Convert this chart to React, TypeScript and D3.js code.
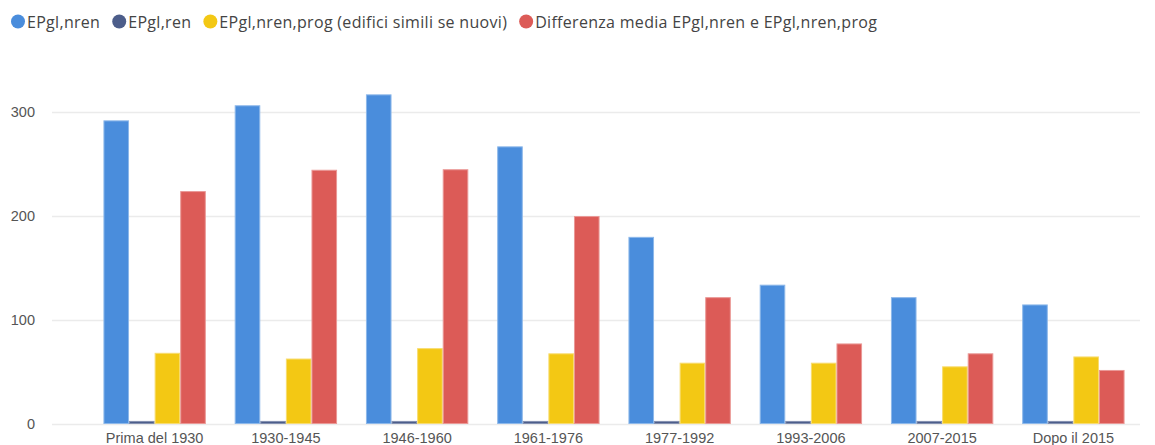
import * as d3 from "d3";
import { useEffect, useRef } from "react";

const categories = [
  "Prima del 1930",
  "1930-1945",
  "1946-1960",
  "1961-1976",
  "1977-1992",
  "1993-2006",
  "2007-2015",
  "Dopo il 2015",
];
const nren = [291, 305.5, 316, 266, 179, 133, 121, 114];
const ren = [2, 2, 2, 2, 2, 2, 2, 2];
const nrenProg = [67.5, 62, 72, 67, 58, 58, 54.5, 64];
const diff = [223, 243.5, 244, 199, 121, 76.5, 67, 51];
const yTicks = [0, 100, 200, 300];

const seriesNames = [
  "EPgl,nren",
  "EPgl,ren",
  "EPgl,nren,prog (edifici simili se nuovi)",
  "Differenza media EPgl,nren e EPgl,nren,prog",
];
const seriesValues = [nren, ren, nrenProg, diff];
const colors = ["#4a8ddc", "#4c5d8a", "#f3c814", "#dc5b57"];
const strokes = ["#8db8ea", "#8490b0", "#f8dc70", "#ea9896"];

const W = 1155;
const H = 445;

const App = () => {
  const ref = useRef<SVGSVGElement>(null);

  useEffect(() => {
    const svg = d3.select(ref.current);
    svg.selectAll("*").remove();

    const x = d3
      .scaleBand()
      .domain(categories)
      .range([89, 1139])
      .paddingInner(0.22)
      .paddingOuter(0.11);
    const xs = d3
      .scaleBand()
      .domain(seriesNames)
      .range([0, x.bandwidth()]);
    const y = d3.scaleLinear().domain([0, 300]).range([423.5, 111.5]);

    // grid
    const grid = svg.append("g");
    grid
      .selectAll("line")
      .data(yTicks)
      .join("line")
      .attr("x1", 52)
      .attr("x2", 1140)
      .attr("y1", (d) => Math.round(y(d)) + 0.5)
      .attr("y2", (d) => Math.round(y(d)) + 0.5)
      .attr("stroke", "#ebebeb")
      .attr("stroke-width", 1.5);

    grid
      .selectAll("text")
      .data(yTicks)
      .join("text")
      .attr("x", 35)
      .attr("y", (d) => y(d) + 5)
      .attr("text-anchor", "end")
      .attr("font-family", "Liberation Sans, Arial, sans-serif")
      .attr("font-size", 14.5)
      .attr("fill", "#555")
      .text((d) => d);

    // bars
    seriesNames.forEach((name, si) => {
      svg
        .append("g")
        .selectAll("rect")
        .data(seriesValues[si])
        .join("rect")
        .attr("x", (_, i) => x(categories[i])! + xs(name)! + 0.5)
        .attr("y", (d) => y(d))
        .attr("width", xs.bandwidth() - 1)
        .attr("height", (d) => y(0) - y(d))
        .attr("fill", colors[si])
        .attr("stroke", strokes[si])
        .attr("stroke-width", 1);
    });

    // x labels
    svg
      .append("g")
      .selectAll("text")
      .data(categories)
      .join("text")
      .attr("x", (d) => x(d)! + x.bandwidth() / 2)
      .attr("y", 443)
      .attr("text-anchor", "middle")
      .attr("font-family", "Liberation Sans, Arial, sans-serif")
      .attr("font-size", 14.5)
      .attr("fill", "#555")
      .text((d) => d);

    // legend
    const legend = svg.append("g");
    let cx = 18;
    seriesNames.forEach((name, si) => {
      legend
        .append("circle")
        .attr("cx", cx)
        .attr("cy", 21.5)
        .attr("r", 7)
        .attr("fill", colors[si]);
      const t = legend
        .append("text")
        .attr("x", cx + 9)
        .attr("y", 27.5)
        .attr("font-family", "Open Sans, sans-serif")
        .attr("font-size", 16)
        .attr("letter-spacing", 0.3)
        .attr("fill", "#444")
        .text(name);
      const w = (t.node() as SVGTextElement).getComputedTextLength();
      cx += 9 + w + 19;
    });
  }, []);

  return (
    <svg
      ref={ref}
      width={W}
      height={H}
      style={{ position: "absolute", left: 0, top: 0, background: "#fff" }}
    />
  );
};

export default App;
